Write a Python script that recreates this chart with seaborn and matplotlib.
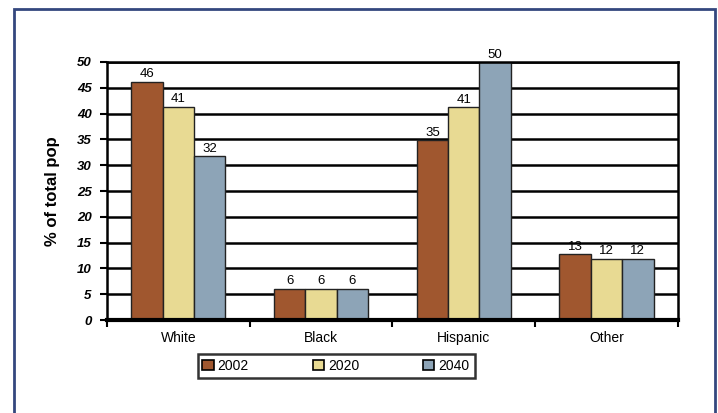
import pandas as pd
import matplotlib.pyplot as plt
import matplotlib.patches as mpatches
import seaborn as sns

# values
groups = ["White", "Black", "Hispanic", "Other"]
years = ["2002", "2020", "2040"]
pct_2002 = [46.2, 6.1, 34.8, 12.8]
pct_2020 = [41.3, 6.1, 41.2, 11.9]
pct_2040 = [31.7, 6.1, 50.0, 11.9]
bar_labels = {"2002": ["46", "6", "35", "13"],
              "2020": ["41", "6", "41", "12"],
              "2040": ["32", "6", "50", "12"]}

df = pd.DataFrame({
    "Group": groups * 3,
    "Year": [y for y in years for _ in groups],
    "Pct": pct_2002 + pct_2020 + pct_2040,
})

colors = ["#A0572F", "#E8DA93", "#8DA4B7"]

sns.set_theme(style="white")
plt.rcParams["font.family"] = ["Liberation Sans", "DejaVu Sans"]
plt.rcParams["text.color"] = "black"
plt.rcParams["xtick.color"] = "black"
plt.rcParams["ytick.color"] = "black"
plt.rcParams["axes.labelcolor"] = "black"

fig = plt.figure(figsize=(7.18, 4.13), dpi=100)
ax = fig.add_axes([0.149, 0.225, 0.795, 0.625])

sns.barplot(data=df, x="Group", y="Pct", hue="Year", palette=colors,
            saturation=1, width=0.66, edgecolor="#222222", linewidth=1.0,
            ax=ax, legend=False)

for cont, yr in zip(ax.containers, years):
    ax.bar_label(cont, labels=bar_labels[yr], fontsize=9.5, padding=1)

ax.set_ylim(0, 50)
ax.set_xlim(-0.5, 3.5)
ax.set_yticks(range(0, 51, 5))
ax.set_yticklabels([str(v) for v in range(0, 51, 5)], fontsize=9.5,
                   fontweight="bold", fontstyle="italic")
ax.yaxis.grid(True, color="black", linewidth=1.8)
ax.set_axisbelow(True)
for s in ax.spines.values():
    s.set_color("black")
    s.set_linewidth(1.8)
ax.spines["bottom"].set_linewidth(3)

ax.tick_params(axis="y", length=5, width=1.5, color="black", left=True, pad=6)
ax.tick_params(axis="x", which="major", length=0, labelsize=10, pad=8)
ax.set_xticks([-0.5, 0.5, 1.5, 2.5, 3.5], minor=True)
ax.tick_params(axis="x", which="minor", length=5, width=1.5, color="black", bottom=True)

ax.set_xlabel("")
ax.set_ylabel("% of total pop", fontsize=12, fontweight="bold", labelpad=12)

handles = [mpatches.Patch(facecolor=c, edgecolor="black", linewidth=1.2, label=y)
           for c, y in zip(colors, years)]
leg = fig.legend(handles=handles, loc="center", bbox_to_anchor=(0.468, 0.114),
                 ncol=3, fontsize=10, frameon=True, fancybox=False,
                 handlelength=0.8, handleheight=0.8, handletextpad=0.3,
                 columnspacing=4.6, borderpad=0.35, borderaxespad=0)
leg.get_frame().set_edgecolor("black")
leg.get_frame().set_linewidth(1.8)

# outer frame of the slide
fig.patches.append(mpatches.Rectangle((14 / 718, -0.05), 701 / 718, 1 - 9 / 413 + 0.05,
                                      transform=fig.transFigure, fill=False,
                                      edgecolor="#34477E", linewidth=2))

fig.savefig("out.png", dpi=100)
